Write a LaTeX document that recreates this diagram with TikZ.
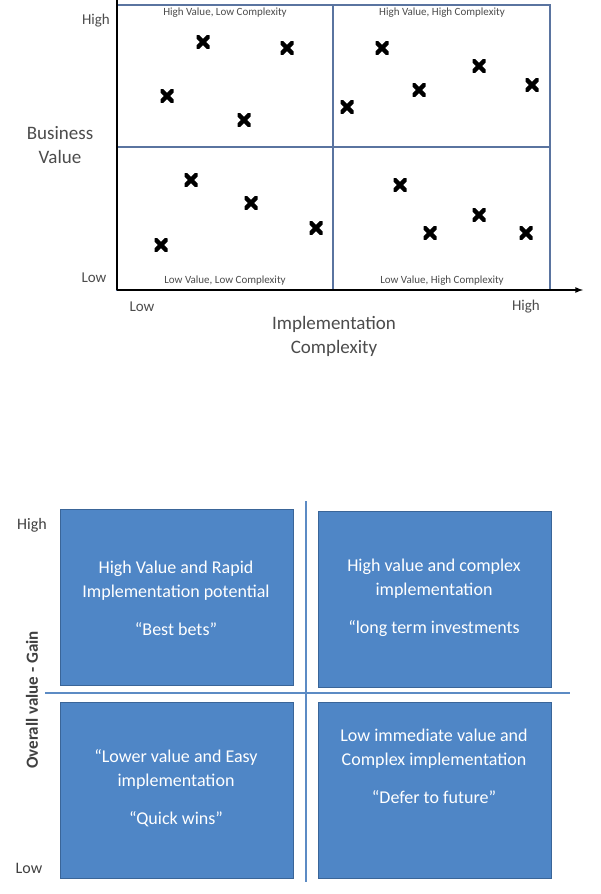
\documentclass[tikz,border=0pt]{standalone}
\usepackage{fontspec}
\setmainfont{Carlito}
\begin{document}
\begin{tikzpicture}[x=1pt,y=-1pt,
  grid/.style={draw=gridc, line width=1.2pt},
  cross/.style={draw=none, inner sep=0pt, minimum size=13pt,
    path picture={\draw[line width=4.5pt] (path picture bounding box.north west) -- (path picture bounding box.south east)
      (path picture bounding box.south west) -- (path picture bounding box.north east);}},
  ql/.style={font=\fontsize{11}{11}\selectfont, text=black!70, inner sep=1pt},
  ax/.style={font=\fontsize{15}{15}\selectfont, text=black!70},
  big/.style={font=\fontsize{19}{24}\selectfont, text=black!70, align=center},
  box/.style={fill=boxc, draw=boxd, line width=0.8pt},
  bt/.style={font=\fontsize{18}{24}\selectfont, text=white, align=center},
  sep/.style={draw=linec, line width=2.2pt}]
\definecolor{gridc}{HTML}{5A74A0}
\definecolor{boxc}{HTML}{4F86C6}
\definecolor{boxd}{HTML}{3A6598}
\definecolor{linec}{HTML}{5C8BC4}
\useasboundingbox (0,0) rectangle (600,894);
\fill[white] (0,0) rectangle (600,894);
% top chart
\draw[grid] (117,5) rectangle (550,290);
\draw[grid] (333,5) -- (333,290);
\draw[grid] (117,147) -- (550,147);
\coordinate (o) at (117,290);
\coordinate (xe) at (583,290);
\coordinate (ye) at (117,-3);
\draw[line width=1.6pt,-latex] (o) -- (xe);
\draw[line width=1.6pt] (o) -- (ye);
\foreach \p/\q [count=\i] in {203/42,287/48,167/96,244/120,382/48,479/66,419/90,532/85,347/107,191/180,251/203,316/228,161/245,400/185,479/215,430/233,526/233}
  \node[cross] (x\i) at (\p,\q) {};
\node[ql] (q1) at (225,13) {High Value, Low Complexity};
\node[ql] (q2) at (442,13) {High Value, High Complexity};
\node[ql] (q3) at (225,281) {Low Value, Low Complexity};
\node[ql] (q4) at (442,281) {Low Value, High Complexity};
\node[ax] (yh) at (96,21) {High};
\node[ax] (yl) at (94,278) {Low};
\node[ax] (xl) at (142,307) {Low};
\node[ax] (xh) at (526,307) {High};
\node[big] (yt) at (60,145) {Business\\Value};
\node[big] (xt) at (334,336) {Implementation\\Complexity};
% bottom matrix
\draw[sep] (306,501) -- (306,882);
\draw[sep] (45,693) -- (570,693);
\node[box, minimum width=233, minimum height=176, anchor=north west] (b1) at (60,509) {};
\node[box, minimum width=233, minimum height=176, anchor=north west] (b2) at (318,511) {};
\node[box, minimum width=233, minimum height=176, anchor=north west] (b3) at (60,702) {};
\node[box, minimum width=233, minimum height=176, anchor=north west] (b4) at (318,702) {};
\node[bt] (t1) at (176,598) {High Value and Rapid\\Implementation potential\\[14pt]``Best bets''};
\node[bt] (t2) at (434,598) {High value and complex\\implementation\\[14pt]``long term investments};
\node[bt] (t3) at (176,788) {``Lower value and Easy\\implementation\\[14pt]``Quick wins''};
\node[bt] (t4) at (434,766) {Low immediate value and\\Complex implementation\\[14pt]``Defer to future''};
\node[font=\fontsize{16}{16}\selectfont, text=black!75] (bh) at (32,525) {High};
\node[font=\fontsize{16}{16}\selectfont, text=black!75] (bl) at (29,868) {Low};
\node[font=\bfseries\fontsize{17}{17}\selectfont, text=black!75, rotate=90] (by) at (32,700) {Overall value - Gain};
\end{tikzpicture}
\end{document}
